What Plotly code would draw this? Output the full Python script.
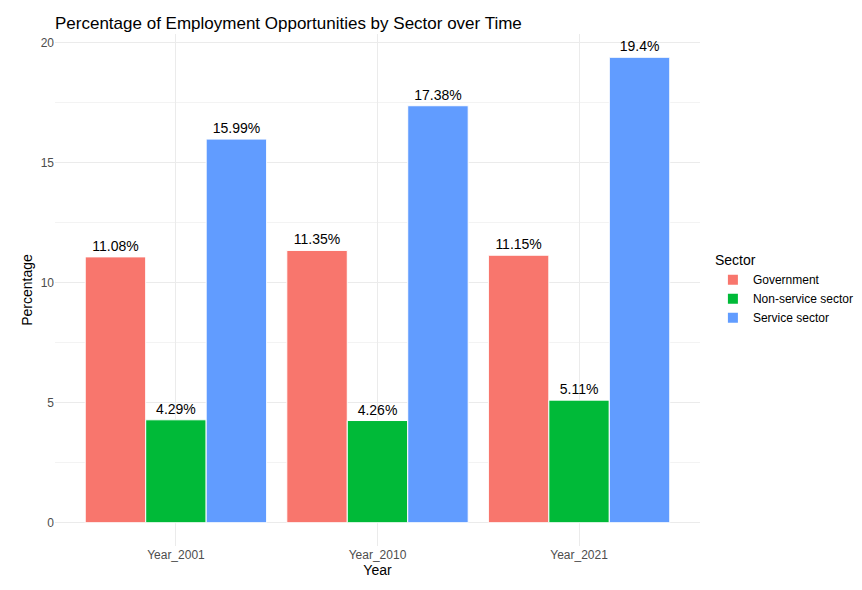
import plotly.graph_objects as go

years = ["Year_2001", "Year_2010", "Year_2021"]
government = [11.08, 11.35, 11.15]
non_service = [4.29, 4.26, 5.11]
service = [15.99, 17.38, 19.4]

series = [
    ("Government", government, "#F8766D"),
    ("Non-service sector", non_service, "#00BA38"),
    ("Service sector", service, "#619CFF"),
]

fig = go.Figure()
for name, vals, col in series:
    fig.add_trace(go.Bar(
        x=years, y=vals, name=name,
        marker=dict(color=col, line=dict(color="white", width=1)),
        text=["{}%".format(v) for v in vals],
        textposition="outside",
        textfont=dict(size=14, color="black"),
        cliponaxis=False,
    ))

fig.update_layout(
    width=862, height=590,
    barmode="group", bargap=0.1, bargroupgap=0,
    plot_bgcolor="white", paper_bgcolor="white",
    font=dict(family="Liberation Sans, Arial, sans-serif", color="#4d4d4d"),
    margin=dict(l=47, r=170, t=26, b=52, autoexpand=False),
    title=dict(text="Percentage of Employment Opportunities by Sector over Time",
               x=0.0, xref="paper", y=0.985, yanchor="top",
               font=dict(size=17, color="black")),
    xaxis=dict(title=dict(text="Year", font=dict(size=14, color="black"), standoff=2),
               range=[-0.6, 2.6],
               showgrid=True, gridcolor="#ebebeb", tickfont=dict(size=12)),
    yaxis=dict(title=dict(text="Percentage", font=dict(size=14, color="black"), standoff=4),
               range=[-0.97, 20.37], tickvals=[0, 5, 10, 15, 20],
               showgrid=True, gridcolor="#ebebeb", zeroline=False,
               minor=dict(tickvals=[2.5, 7.5, 12.5, 17.5], showgrid=True, gridcolor="#f3f3f3"),
               tickfont=dict(size=12)),
    legend=dict(title=dict(text="Sector", font=dict(size=14, color="black")),
                x=1.02, y=0.5, yanchor="middle", font=dict(size=12, color="black"),
                itemsizing="constant"),
)

fig.write_html("out.html")
